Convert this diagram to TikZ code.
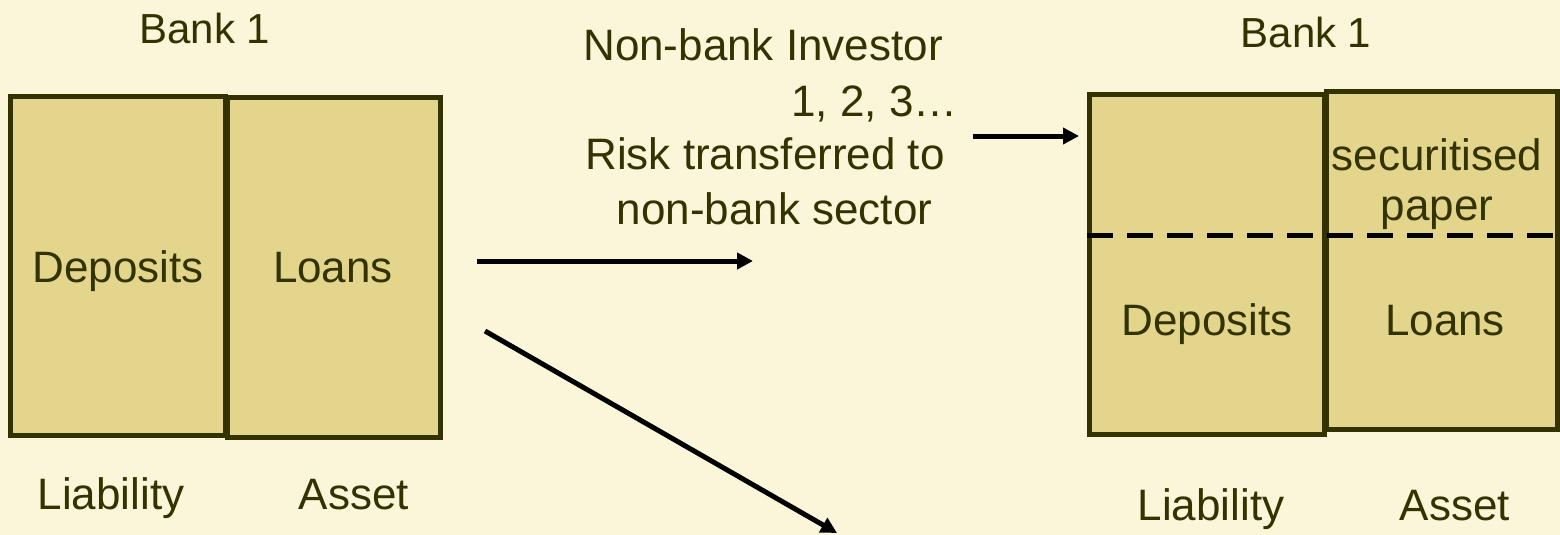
\documentclass[tikz,border=0pt]{standalone}
\usepackage{fontspec}
\setmainfont{Liberation Sans}
\usetikzlibrary{arrows.meta}
\definecolor{paper}{RGB}{251,245,217}
\definecolor{boxfill}{RGB}{227,213,139}
\definecolor{olive}{RGB}{51,51,0}
\tikzset{
  sheet/.style={draw=olive, fill=boxfill, line width=5pt},
  txt/.style={text=olive, inner sep=0pt, anchor=base, font=\fontsize{44}{53}\selectfont},
  title/.style={txt, font=\fontsize{42}{50}\selectfont},
  flow/.style={draw=black, line width=5pt, -{Triangle[length=16pt,width=16pt]}},
  split/.style={draw=black, line width=5pt, dash pattern=on 26pt off 14pt}
}
\begin{document}
\begin{tikzpicture}[x=1pt, y=-1pt]
  \useasboundingbox (0,0) rectangle (1560,535);
  \fill[paper] (0,0) rectangle (1560,535);

  % balance sheet before securitisation
  \draw[sheet] (10,96) rectangle (225,435.5);
  \draw[sheet] (227.5,97.5) rectangle (440,437.5);
  \node[title] (bankL) at (205,44) {Bank 1};
  \node[txt] (depL) at (118,282) {Deposits};
  \node[txt] (loanL) at (333,282) {Loans};
  \node[txt] (liabL) at (111,509) {Liability};
  \node[txt] (assetL) at (354,509) {Asset};

  % balance sheet after securitisation
  \draw[sheet] (1089.5,94.5) rectangle (1324.5,434.5);
  \draw[sheet] (1326.5,91.5) rectangle (1557.5,429.5);
  \draw[split] (1087,235) -- (1562,235);
  \node[title] (bankR) at (1306,48) {Bank 1};
  \node[txt] (secR) at (1437,170) {securitised};
  \node[txt] (papR) at (1437,220) {paper};
  \node[txt] (depR) at (1207,335) {Deposits};
  \node[txt] (loanR) at (1445,335) {Loans};
  \node[txt] (liabR) at (1211,520) {Liability};
  \node[txt] (assetR) at (1455,520) {Asset};

  % investors and risk transfer
  \node[txt] (inv) at (763,60) {Non-bank Investor};
  \node[txt, anchor=base east] (invnum) at (958,116) {1, 2, 3…};
  \node[txt] (risk1) at (765,169) {Risk transferred to};
  \node[txt] (risk2) at (774.5,224) {non-bank sector};

  % flows
  \coordinate (f1s) at (477,261);
  \coordinate (f1e) at (753,261);
  \coordinate (f2s) at (973,136);
  \coordinate (f2e) at (1079,136);
  \coordinate (f3s) at (485,331);
  \coordinate (f3e) at (837,533);
  \draw[flow] (f1s) -- (f1e);
  \draw[flow] (f2s) -- (f2e);
  \draw[flow] (f3s) -- (f3e);
\end{tikzpicture}
\end{document}
